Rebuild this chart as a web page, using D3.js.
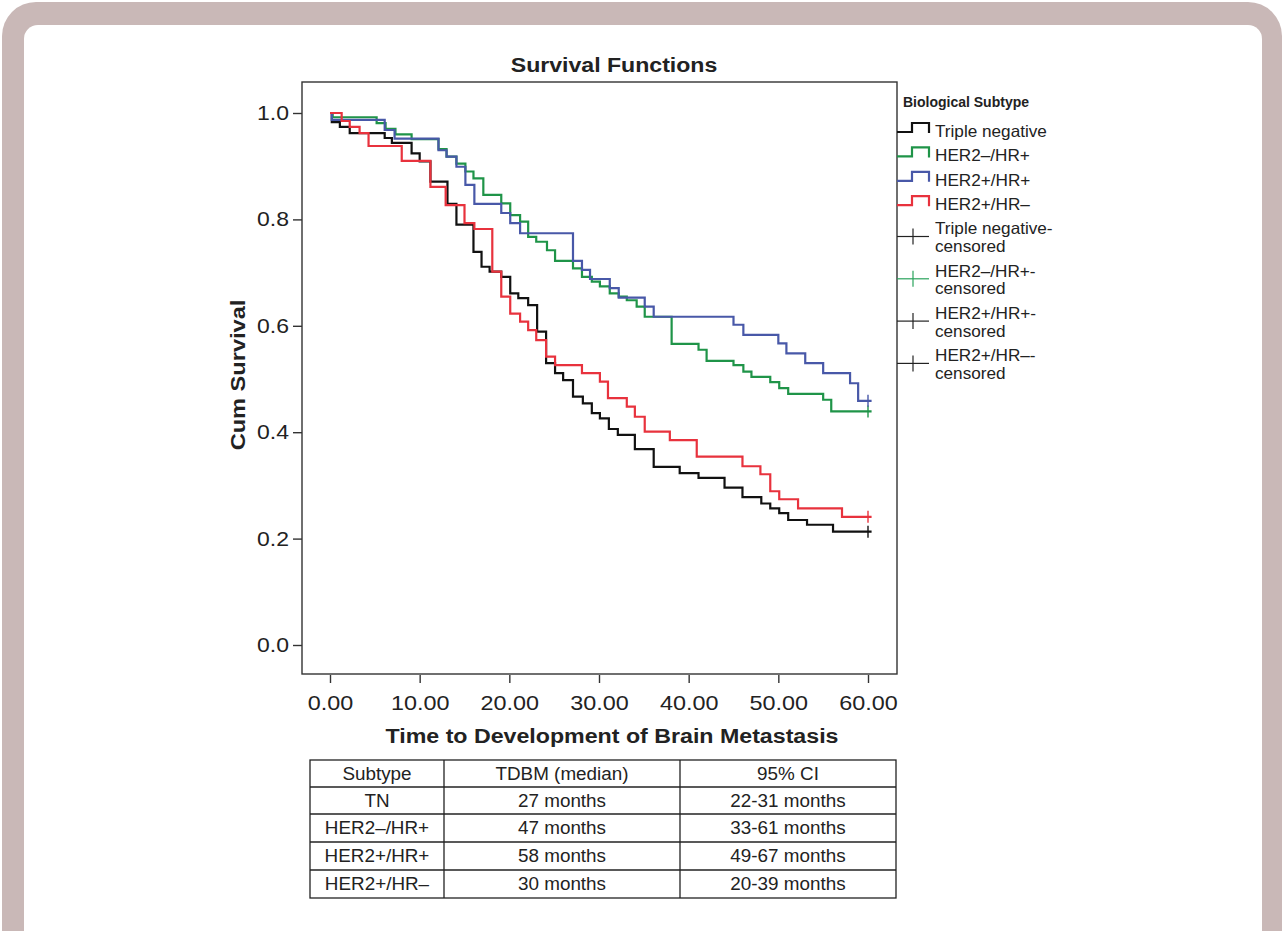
<!DOCTYPE html>
<html>
<head>
<meta charset="utf-8">
<script src="https://cdn.jsdelivr.net/npm/d3@7"></script>
<style>
  html, body { margin: 0; padding: 0; background: #fff; }
  svg { display: block; font-family: "Liberation Sans", Arial, Helvetica, sans-serif; }
</style>
</head>
<body>
<svg id="chart" width="1284" height="931"></svg>
<script>
// Kaplan-Meier steps: [months, cum survival]
const tnSteps = [
  [0, 1.0], [0.2, 0.983], [1.1, 0.974], [2.2, 0.962], [6.1, 0.953], [6.9, 0.944], [9.1, 0.924],
  [10.0, 0.909], [11.2, 0.871], [13.1, 0.829], [14.1, 0.790], [16.0, 0.739], [16.9, 0.711],
  [17.8, 0.702], [19.1, 0.692], [20.1, 0.661], [21.0, 0.652], [22.1, 0.639], [23.1, 0.589],
  [24.1, 0.530], [25.1, 0.511], [26.0, 0.498], [27.1, 0.467], [28.2, 0.454], [29.2, 0.436],
  [30.1, 0.426], [31.1, 0.406], [32.1, 0.395], [34.0, 0.368], [36.1, 0.335], [39.0, 0.323],
  [41.1, 0.314], [44.0, 0.296], [46.0, 0.278], [48.1, 0.266], [49.1, 0.257], [50.1, 0.248],
  [51.1, 0.235], [53.2, 0.226], [56.1, 0.213]
];
const her2NegHrPosSteps = [
  [0, 1.0], [0.3, 0.992], [5.2, 0.981], [6.2, 0.970], [7.3, 0.960], [9.1, 0.951], [12.1, 0.932],
  [13.0, 0.918], [14.1, 0.905], [15.1, 0.890], [16.0, 0.877], [17.1, 0.846], [19.1, 0.830],
  [20.1, 0.808], [21.2, 0.796], [22.1, 0.767], [23.0, 0.758], [24.2, 0.742], [25.1, 0.722],
  [27.1, 0.708], [28.1, 0.692], [29.2, 0.683], [30.1, 0.674], [31.2, 0.661], [32.2, 0.655],
  [33.1, 0.648], [34.2, 0.636], [35.1, 0.617], [38.1, 0.566], [41.1, 0.555], [42.0, 0.534],
  [45.0, 0.526], [46.1, 0.514], [47.0, 0.504], [49.1, 0.494], [50.1, 0.483], [51.1, 0.472],
  [55.0, 0.461], [55.9, 0.439]
];
const her2PosHrPosSteps = [
  [0, 1.0], [0.2, 0.987], [6.1, 0.968], [7.2, 0.952], [12.1, 0.930], [13.0, 0.918], [14.1, 0.899],
  [15.1, 0.865], [16.1, 0.829], [19.1, 0.812], [20.1, 0.793], [21.2, 0.774], [27.1, 0.722],
  [28.1, 0.705], [29.0, 0.688], [31.2, 0.671], [32.2, 0.653], [35.1, 0.636], [36.1, 0.617],
  [45.0, 0.602], [46.1, 0.583], [50.0, 0.567], [50.9, 0.548], [53.0, 0.530], [55.0, 0.511],
  [58.0, 0.492], [58.9, 0.459]
];
const her2PosHrNegSteps = [
  [0, 1.0], [1.3, 0.985], [2.2, 0.974], [3.3, 0.962], [4.3, 0.938], [8.0, 0.910], [11.2, 0.861],
  [12.9, 0.827], [15.0, 0.793], [16.1, 0.782], [18.1, 0.702], [19.1, 0.655], [20.1, 0.623],
  [21.2, 0.608], [22.1, 0.592], [23.0, 0.573], [24.1, 0.542], [25.1, 0.526], [28.1, 0.511],
  [30.1, 0.495], [31.0, 0.464], [33.1, 0.448], [34.0, 0.429], [35.1, 0.401], [37.9, 0.385],
  [40.9, 0.354], [46.0, 0.336], [48.0, 0.321], [49.1, 0.289], [50.1, 0.274], [52.2, 0.257],
  [57.1, 0.241]
];

const seriesNames = ['Triple negative', 'HER2\u2013/HR+', 'HER2+/HR+', 'HER2+/HR\u2013'];
const seriesColors = ['#111111', '#1f9448', '#4858a8', '#e8323d'];
const censorTimes = [60, 60, 60, 60];
const lineEnd = 60.4;
const censorLabels = [
  ['Triple negative-', 'censored'],
  ['HER2\u2013/HR+-', 'censored'],
  ['HER2+/HR+-', 'censored'],
  ['HER2+/HR\u2013-', 'censored']
];
const censorLegendColors = ['#222222', '#2aa35c', '#222222', '#222222'];

const xTicks = [0, 10, 20, 30, 40, 50, 60];
const yTicks = [0, 0.2, 0.4, 0.6, 0.8, 1.0];

const tableHead = ['Subtype', 'TDBM (median)', '95% CI'];
const tableSubtypes = ['TN', 'HER2\u2013/HR+', 'HER2+/HR+', 'HER2+/HR\u2013'];
const tableMedians = ['27 months', '47 months', '58 months', '30 months'];
const tableCIs = ['22-31 months', '33-61 months', '49-67 months', '20-39 months'];

const allSteps = [tnSteps, her2NegHrPosSteps, her2PosHrPosSteps, her2PosHrNegSteps];

// the original lettering is a little wider than Liberation Sans
const widen = (sel, origin, k) => sel
  .style('transform-box', 'fill-box')
  .style('transform-origin', origin)
  .style('transform', `scaleX(${k})`);

const svg = d3.select('#chart');

// mauve rounded frame (open at the bottom edge of the picture)
svg.append('rect')
  .attr('x', 2).attr('y', 2).attr('width', 1280).attr('height', 980)
  .attr('rx', 34).attr('fill', '#c9b8b7');
svg.append('rect')
  .attr('x', 24).attr('y', 25).attr('width', 1238).attr('height', 960)
  .attr('rx', 14).attr('fill', '#ffffff');

const x = d3.scaleLinear().domain([0, 60]).range([330, 868]);
const y = d3.scaleLinear().domain([0, 1]).range([645, 113]);

const frame = { left: 302, right: 897, top: 82, bottom: 674 };

// title
svg.append('text')
  .attr('transform', 'translate(614,72) scale(1.1,1)')
  .attr('text-anchor', 'middle')
  .attr('font-size', 21).attr('font-weight', 'bold').attr('fill', '#222')
  .text('Survival Functions');

// plot frame
svg.append('rect')
  .attr('x', frame.left).attr('y', frame.top)
  .attr('width', frame.right - frame.left).attr('height', frame.bottom - frame.top)
  .attr('fill', 'none').attr('stroke', '#333').attr('stroke-width', 1.4);

// y axis
const yAxis = svg.append('g')
  .attr('transform', `translate(${frame.left},0)`)
  .call(d3.axisLeft(y).tickValues(yTicks).tickFormat(d3.format('.1f')).tickSize(9).tickPadding(4));
yAxis.select('.domain').remove();
yAxis.selectAll('line').attr('stroke', '#333').attr('stroke-width', 1.4);
widen(yAxis.selectAll('text').attr('font-size', 20).attr('fill', '#222')
  .style('font-family', '"Liberation Sans", Arial, sans-serif'), 'right center', 1.15);

// x axis
const xAxis = svg.append('g')
  .attr('transform', `translate(0,${frame.bottom + 1})`)
  .call(d3.axisBottom(x).tickValues(xTicks).tickFormat(d3.format('.2f')).tickSize(8).tickPadding(13));
xAxis.select('.domain').remove();
xAxis.selectAll('line').attr('stroke', '#333').attr('stroke-width', 1.4);
widen(xAxis.selectAll('text').attr('font-size', 20).attr('fill', '#222')
  .style('font-family', '"Liberation Sans", Arial, sans-serif'), 'center', 1.17);

// axis titles
svg.append('text')
  .attr('transform', 'translate(612,743) scale(1.16,1)')
  .attr('text-anchor', 'middle')
  .attr('font-size', 20).attr('font-weight', 'bold').attr('fill', '#222')
  .text('Time to Development of Brain Metastasis');
svg.append('text')
  .attr('transform', 'translate(245,375) rotate(-90) scale(1.18,1)')
  .attr('text-anchor', 'middle')
  .attr('font-size', 20).attr('font-weight', 'bold').attr('fill', '#222')
  .text('Cum Survival');

// survival curves
const line = d3.line()
  .x(d => x(d[0]))
  .y(d => y(d[1]))
  .curve(d3.curveStepAfter);

allSteps.forEach((steps, i) => {
  const pts = steps.concat([[lineEnd, steps[steps.length - 1][1]]]);
  svg.append('path')
    .attr('d', line(pts))
    .attr('fill', 'none')
    .attr('stroke', seriesColors[i])
    .attr('stroke-width', 2.2);
});

// censor marks
allSteps.forEach((steps, i) => {
  const last = steps[steps.length - 1][1];
  const cx = x(censorTimes[i]);
  svg.append('line')
    .attr('x1', cx).attr('x2', cx)
    .attr('y1', y(last) - 6).attr('y2', y(last) + 6)
    .attr('stroke', seriesColors[i]).attr('stroke-width', 1.4);
});

// legend
const lg = svg.append('g');
lg.append('text')
  .attr('x', 903).attr('y', 107)
  .attr('font-size', 14).attr('font-weight', 'bold').attr('fill', '#222')
  .text('Biological Subtype');

seriesNames.forEach((name, i) => {
  const cy = 131 + i * 24.4;
  lg.append('path')
    .attr('d', `M897,${cy + 1}H912V${cy - 8}H929V${cy + 2}`)
    .attr('fill', 'none').attr('stroke', seriesColors[i]).attr('stroke-width', 2.2);
  widen(lg.append('text')
    .attr('x', 935).attr('y', cy + 6)
    .attr('font-size', 16.5).attr('fill', '#222')
    .text(name), 'left center', 1.04);
});

censorLabels.forEach((lbl, i) => {
  const cy = 228.5 + i * 42.3;
  const my = cy + 8;
  lg.append('line')
    .attr('x1', 897).attr('x2', 929).attr('y1', my).attr('y2', my)
    .attr('stroke', censorLegendColors[i]).attr('stroke-width', 1.2);
  lg.append('line')
    .attr('x1', 913).attr('x2', 913).attr('y1', my - 8).attr('y2', my + 8)
    .attr('stroke', censorLegendColors[i]).attr('stroke-width', 1.2);
  widen(lg.append('text')
    .attr('x', 935).attr('y', cy + 6)
    .attr('font-size', 16.5).attr('fill', '#222')
    .text(lbl[0]), 'left center', 1.04);
  widen(lg.append('text')
    .attr('x', 935).attr('y', cy + 23.5)
    .attr('font-size', 16.5).attr('fill', '#222')
    .text(lbl[1]), 'left center', 1.04);
});

// table under the chart
const colEdges = [310, 444, 680, 896];
const rowEdges = [760, 787, 814, 842, 870, 898];
const tableData = [tableHead].concat(tableSubtypes.map((s, i) => [s, tableMedians[i], tableCIs[i]]));

const tbl = svg.append('g');
tbl.append('rect')
  .attr('x', colEdges[0]).attr('y', rowEdges[0])
  .attr('width', colEdges[3] - colEdges[0]).attr('height', rowEdges[rowEdges.length - 1] - rowEdges[0])
  .attr('fill', 'none').attr('stroke', '#222').attr('stroke-width', 1.3);
colEdges.slice(1, -1).forEach(cx => {
  tbl.append('line').attr('x1', cx).attr('x2', cx)
    .attr('y1', rowEdges[0]).attr('y2', rowEdges[rowEdges.length - 1])
    .attr('stroke', '#222').attr('stroke-width', 1.3);
});
rowEdges.slice(1, -1).forEach(ry => {
  tbl.append('line').attr('x1', colEdges[0]).attr('x2', colEdges[3])
    .attr('y1', ry).attr('y2', ry)
    .attr('stroke', '#222').attr('stroke-width', 1.3);
});
tableData.forEach((row, r) => {
  row.forEach((cell, c) => {
    widen(tbl.append('text')
      .attr('x', (colEdges[c] + colEdges[c + 1]) / 2)
      .attr('y', (rowEdges[r] + rowEdges[r + 1]) / 2 + 6.5)
      .attr('text-anchor', 'middle')
      .attr('font-size', 18.5).attr('fill', '#222')
      .text(cell), 'center', 1.02);
  });
});
</script>
</body>
</html>
